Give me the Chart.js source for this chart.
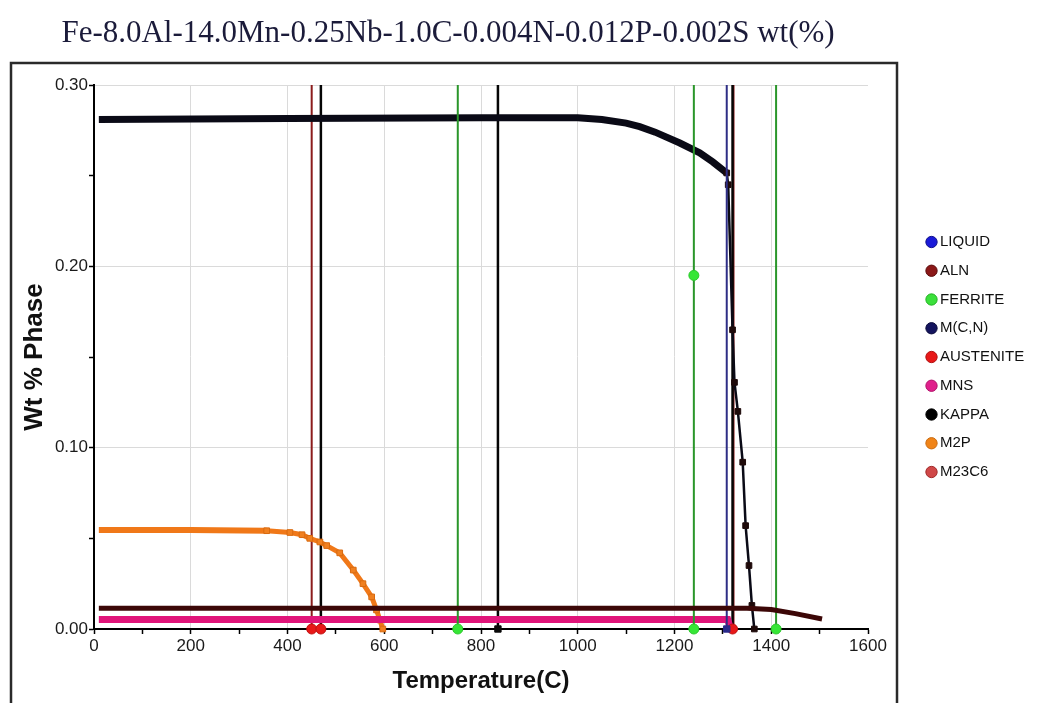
<!DOCTYPE html>
<html>
<head>
<meta charset="utf-8">
<script src="https://cdn.jsdelivr.net/npm/chart.js@4.4.1/dist/chart.umd.min.js"></script>
<style>
html,body{margin:0;padding:0;background:#fff;}
canvas{display:block;}
</style>
</head>
<body>
<canvas id="c" width="1040" height="703"></canvas>
<script>
// ---------------- data ----------------
const TITLE = 'Fe-8.0Al-14.0Mn-0.25Nb-1.0C-0.004N-0.012P-0.002S wt(%)';
const X_TITLE = 'Temperature(C)';
const Y_TITLE = 'Wt % Phase';
const PHASES = ['LIQUID', 'ALN', 'FERRITE', 'M(C,N)', 'AUSTENITE', 'MNS', 'KAPPA', 'M2P', 'M23C6'];
const X_TICK_LABELS = ['0', '200', '400', '600', '800', '1000', '1200', '1400', '1600'];
const Y_TICK_LABELS = ['0.00', '0.10', '0.20', '0.30'];

// continuous phase curves: temperature (C) and weight fraction
const KAPPA_T = [10, 400, 800, 1000, 1050, 1100, 1128, 1160, 1211, 1252, 1279, 1308, 1311, 1320, 1324, 1331, 1341, 1347, 1354, 1360, 1365];
const KAPPA_W = [0.281, 0.2815, 0.282, 0.282, 0.281, 0.279, 0.277, 0.274, 0.268, 0.2626, 0.2576, 0.2515, 0.245, 0.165, 0.136, 0.120, 0.092, 0.057, 0.035, 0.013, 0.0];
const M2P_T = [10, 200, 357, 405, 430, 446, 467, 481, 508, 536, 556, 574, 584, 591, 597];
const M2P_W = [0.0546, 0.0546, 0.0542, 0.0532, 0.0520, 0.0500, 0.0480, 0.0460, 0.0420, 0.0325, 0.0250, 0.0177, 0.0105, 0.0050, 0.0];
const ALN_T = [10, 1350, 1400, 1450, 1505];
const ALN_W = [0.0115, 0.0115, 0.0108, 0.0085, 0.0055];
const MNS_T = [10, 1310, 1316];
const MNS_W = [0.0052, 0.0052, 0.0];

// temperatures where a phase fraction jumps from 0 to beyond the axis (vertical traces)
const JUMP_TOP = 1.0;
const FERRITE_JUMP_T = [752, 1240, 1410];
const FERRITE_MID_T = [1240];
const FERRITE_MID_W = [0.195];
const KAPPA_JUMP_T = [469, 835, 1320];
const ALN_JUMP_T = [450, 1322];
const MCN_JUMP_T = [1308];
// isolated austenite markers on the zero line
const AUSTENITE_T = [450, 469, 1320];
const AUSTENITE_W = [0, 0, 0];

// ---------------- helpers ----------------
const pts = (ts, ws) => ts.map((t, i) => ({x: t, y: ws[i]}));
function jumps(ts, midT = [], midW = []) {
  const out = [];
  ts.forEach(t => {
    out.push({x: t, y: 0});
    midT.forEach((m, i) => { if (m === t) out.push({x: t, y: midW[i]}); });
    out.push({x: t, y: JUMP_TOP});
    out.push({x: t, y: null});
  });
  return out;
}
const rawX = c => (c && c.raw ? c.raw.x : NaN);
const rawY = c => (c && c.raw ? c.raw.y : NaN);
const CLIP = {left: 10, right: 10, top: 0, bottom: 10};

const base = {type: 'line', clip: CLIP, spanGaps: false, tension: 0, fill: false, inLegend: true, borderCapStyle: 'butt', pointBorderWidth: 1};

const datasets = [
  Object.assign({}, base, {label: 'LIQUID', data: [], borderColor: '#1a1ad8', backgroundColor: '#1a1ad8', legendColor: '#1a1ad8', legendEdge: '#10108a'}),
  Object.assign({}, base, {label: 'ALN', data: pts(ALN_T, ALN_W), borderColor: '#3c0707', borderWidth: 5, pointRadius: 0,
    legendColor: '#8b1818', legendEdge: '#5a0a0a'}),
  Object.assign({}, base, {label: 'FERRITE', data: jumps(FERRITE_JUMP_T, FERRITE_MID_T, FERRITE_MID_W), borderColor: '#2a962a', borderWidth: 2,
    pointStyle: 'circle', pointRadius: 5, pointBackgroundColor: '#36e636', pointBorderColor: '#2cc82c', pointBorderWidth: 1,
    legendColor: '#3be03b', legendEdge: '#22b022'}),
  Object.assign({}, base, {label: 'M(C,N)', data: jumps(MCN_JUMP_T), borderColor: '#2e2e86', borderWidth: 2,
    pointStyle: 'rect', pointRadius: c => (rawY(c) === 0 ? 4.5 : 0), pointBackgroundColor: '#2a2a8a', pointBorderColor: '#2a2a8a',
    legendColor: '#14145e', legendEdge: '#0a0a3a'}),
  Object.assign({}, base, {label: 'AUSTENITE', data: pts(AUSTENITE_T, AUSTENITE_W), showLine: false,
    pointStyle: 'circle', pointRadius: 5, pointBackgroundColor: '#e81818', pointBorderColor: '#c01010', pointBorderWidth: 1,
    legendColor: '#e81818', legendEdge: '#b01010'}),
  Object.assign({}, base, {label: 'MNS', data: pts(MNS_T, MNS_W), borderColor: '#e0157a', borderWidth: 7, pointRadius: 0,
    legendColor: '#e0208c', legendEdge: '#b01068'}),
  Object.assign({}, base, {label: 'KAPPA', data: pts(KAPPA_T, KAPPA_W), borderColor: '#0a0a16', borderWidth: 7,
    segment: {borderWidth: c => (c.p0.parsed.x >= 1308 ? 2.5 : 7)},
    pointStyle: 'rect', pointRadius: c => (rawX(c) >= 1308 ? 4 : 0), pointBackgroundColor: '#1e0a0a', pointBorderColor: '#1e0a0a',
    legendColor: '#000000', legendEdge: '#000000'}),
  Object.assign({}, base, {label: 'M2P', data: pts(M2P_T, M2P_W), borderColor: '#f07818', borderWidth: 6,
    segment: {borderWidth: c => (c.p0.parsed.x >= 357 ? 5 : 6)},
    pointStyle: 'rect', pointRadius: c => (rawX(c) >= 357 ? 4 : 0), pointBackgroundColor: '#f08020', pointBorderColor: '#d86a10',
    legendColor: '#f08418', legendEdge: '#c86a10'}),
  Object.assign({}, base, {label: 'M23C6', data: [], borderColor: '#d04848', backgroundColor: '#d04848', legendColor: '#d04848', legendEdge: '#a02828'}),
  // vertical traces of KAPPA and ALN (not separate legend entries)
  Object.assign({}, base, {label: 'KAPPA jumps', inLegend: false, data: jumps(KAPPA_JUMP_T), borderColor: '#050505', borderWidth: 2.5,
    pointStyle: 'rect', pointRadius: c => (rawY(c) === 0 ? 4.5 : 0), pointBackgroundColor: '#0a0a0a', pointBorderColor: '#0a0a0a'}),
  Object.assign({}, base, {label: 'ALN jumps', inLegend: false, data: jumps(ALN_JUMP_T), borderColor: '#8b1c1c', borderWidth: 2,
    pointStyle: 'circle', pointRadius: c => (rawY(c) === 0 ? 3 : 0), pointBackgroundColor: '#c01c1c', pointBorderColor: '#c01c1c'})
];

// ---------------- layout plugins ----------------
const TITLE_CX = 448;
const LEGEND_X = 930.5;
const layoutTweak = {
  id: 'layoutTweak',
  afterLayout(chart) {
    const lg = chart.legend;
    if (lg) {
      const dx = LEGEND_X - (lg.left + lg.options.labels.padding);
      lg.left += dx; lg.right += dx;
    }
    const tb = chart.titleBlock;
    if (tb) {
      const half = (tb.right - tb.left) / 2;
      tb.left = TITLE_CX - half; tb.right = TITLE_CX + half;
    }
  }
};
const frame = {
  id: 'frame',
  afterDraw(chart) {
    const ctx = chart.ctx;
    ctx.save();
    ctx.strokeStyle = '#2a2a2a';
    ctx.lineWidth = 2.5;
    ctx.strokeRect(11, 63, 886, 700);
    ctx.restore();
  }
};

Chart.defaults.font.family = "'Liberation Sans', Arial, sans-serif";
Chart.defaults.color = '#111';

new Chart(document.getElementById('c'), {
  type: 'line',
  data: {datasets},
  plugins: [layoutTweak, frame],
  options: {
    responsive: false,
    animation: false,
    events: [],
    layout: {padding: {left: 10, top: 0, right: 0, bottom: 0}},
    plugins: {
      tooltip: {enabled: false},
      title: {
        display: true, text: TITLE, color: '#1b1b3a',
        font: {family: "'Liberation Serif', 'Times New Roman', serif", size: 31, weight: 'normal'},
        padding: {top: 15, bottom: 32.8}
      },
      legend: {
        position: 'right', fullSize: false, align: 'center',
        labels: {
          usePointStyle: true, pointStyle: 'circle', boxWidth: 2, boxHeight: 8, padding: 13.75,
          color: '#111', font: {size: 15},
          generateLabels: chart => chart.data.datasets
            .map((ds, i) => ({ds, i}))
            .filter(o => o.ds.inLegend)
            .map(({ds, i}) => ({
              text: ds.label, fillStyle: ds.legendColor, strokeStyle: ds.legendEdge, lineWidth: 1,
              pointStyle: 'circle', hidden: false, datasetIndex: i, fontColor: '#111'
            }))
        }
      }
    },
    scales: {
      x: {
        type: 'linear', min: 0, max: 1600,
        afterFit: s => { s.height = 74; s.paddingRight = 172; },
        border: {color: '#000', width: 2},
        grid: {
          color: c => (c.tick && c.tick.value % 200 === 0 && c.tick.value > 0 && c.tick.value < 1600) ? '#dadada' : 'rgba(0,0,0,0)',
          tickColor: '#000', tickLength: 5, lineWidth: 1, tickWidth: 1.5
        },
        ticks: {
          stepSize: 100, autoSkip: false, maxRotation: 0, padding: 2, color: '#1a1a1a', font: {size: 17},
          callback: v => (X_TICK_LABELS.includes(String(v)) ? String(v) : '')
        },
        title: {display: true, text: X_TITLE, color: '#111', font: {size: 24, weight: 'bold'}, padding: {top: 0, bottom: 7}}
      },
      y: {
        type: 'linear', min: 0, max: 0.3,
        afterFit: s => { s.width = 84; },
        border: {color: '#000', width: 2},
        grid: {
          color: c => {
            const r = c.tick ? Math.round(c.tick.value * 100) : 0;
            return (r > 0 && r % 10 === 0) ? '#dadada' : 'rgba(0,0,0,0)';
          },
          tickColor: '#000', tickLength: 5, lineWidth: 1, tickWidth: 1.5
        },
        ticks: {
          stepSize: 0.05, autoSkip: false, padding: 1, color: '#1a1a1a', font: {size: 17},
          callback: v => { const s = Number(v).toFixed(2); return Y_TICK_LABELS.includes(s) ? s : ''; }
        },
        title: {display: true, text: Y_TITLE, color: '#111', font: {size: 26, weight: 'bold'}, padding: {top: 9, bottom: 0}}
      }
    }
  }
});
</script>
</body>
</html>
